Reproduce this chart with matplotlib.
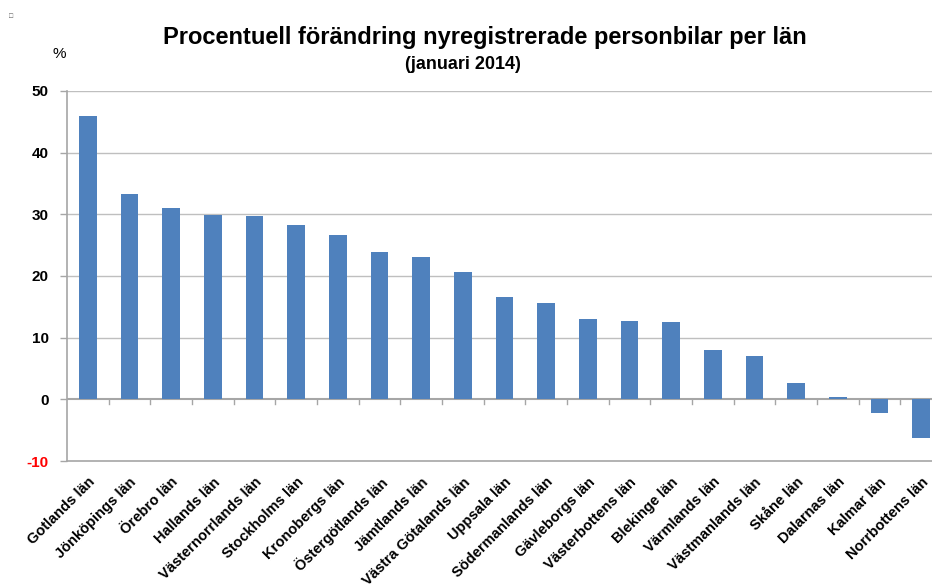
import matplotlib.pyplot as plt
import numpy as np

lan = ["Gotlands län", "Jönköpings län", "Örebro län", "Hallands län",
       "Västernorrlands län", "Stockholms län", "Kronobergs län",
       "Östergötlands län", "Jämtlands län", "Västra Götalands län",
       "Uppsala län", "Södermanlands län", "Gävleborgs län",
       "Västerbottens län", "Blekinge län", "Värmlands län",
       "Västmanlands län", "Skåne län", "Dalarnas län", "Kalmar län",
       "Norrbottens län"]
forandring = [45.9, 33.3, 31.0, 29.9, 29.7, 28.2, 26.6, 23.9, 23.1, 20.6,
              16.6, 15.7, 13.1, 12.7, 12.5, 8.0, 7.1, 2.6, 0.3, -2.2, -6.3]
y_ticks = [-10, 0, 10, 20, 30, 40, 50]

plt.rcParams['font.family'] = ['Liberation Sans', 'DejaVu Sans']
plt.rcParams['font.weight'] = 'bold'

fig = plt.figure(figsize=(9.32, 5.84), dpi=100)
ax = fig.add_axes([0.0719, 0.2106, 0.9388, 0.6336])

x = np.arange(len(lan))

for v in y_ticks[2:]:
    ax.axhline(v, color='#BFBFBF', lw=1, zorder=1)
ax.axhline(0, color='#A6A6A6', lw=1.5, zorder=2)

ax.bar(x, forandring, width=0.42, color='#4F81BD', zorder=3)

ax.set_xlim(-0.5, len(lan) - 0.5)
ax.set_ylim(-10, 50)
ax.set_yticks(y_ticks)
ax.set_yticklabels([str(v) for v in y_ticks], fontsize=11, fontweight='bold')
ax.get_yticklabels()[0].set_color('red')
ax.tick_params(axis='y', length=5, width=1, color='#A6A6A6', pad=8)

# category boundary tick marks below the zero line
for b in np.arange(0.5, len(lan) - 0.5, 1):
    ax.plot([b, b], [0, -0.8], color='#A6A6A6', lw=1, zorder=2, clip_on=False)

for s in ['top', 'right']:
    ax.spines[s].set_visible(False)
ax.spines['left'].set_color('#A6A6A6')
ax.spines['bottom'].set_color('#A6A6A6')
ax.spines['left'].set_linewidth(1.2)
ax.spines['bottom'].set_linewidth(1.2)

ax.set_xticks(x)
ax.set_xticklabels(lan, rotation=45, ha='right', va='top',
                   rotation_mode='anchor', fontsize=10.5, fontweight='bold')
ax.tick_params(axis='x', length=0, pad=10)

fig.text(0.52, 0.935, "Procentuell förändring nyregistrerade personbilar per län",
         ha='center', va='center', fontsize=17, fontweight='bold')
fig.text(0.497, 0.89, "(januari 2014)", ha='center', va='center',
         fontsize=13, fontweight='bold')
fig.text(0.064, 0.908, "%", ha='center', va='center', fontsize=11,
         fontweight='normal')
fig.text(0.012, 0.972, "\u25a1", ha='center', va='center', fontsize=5,
         fontweight='normal', color='#555555')

fig.savefig("out.png", dpi=100)
